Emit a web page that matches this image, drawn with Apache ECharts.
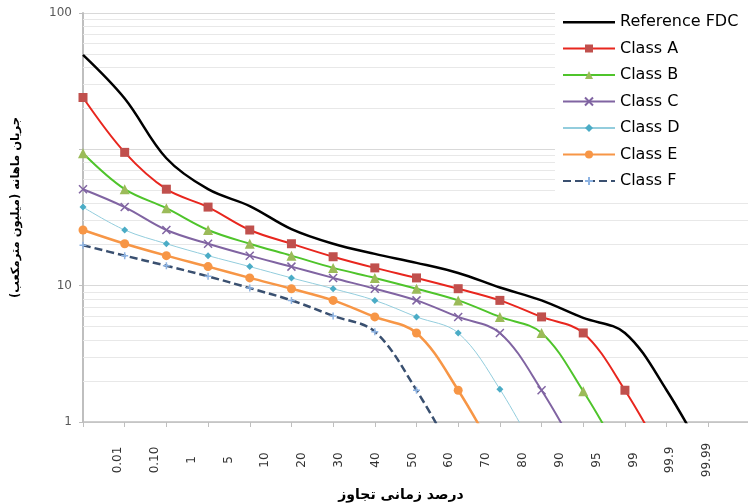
<!DOCTYPE html>
<html>
<head>
<meta charset="utf-8">
<script src="https://cdn.jsdelivr.net/npm/echarts@6/dist/echarts.min.js"></script>
<style>
  html, body { margin: 0; padding: 0; background: #fff; }
  #fdc { width: 748px; height: 504px; }
</style>
</head>
<body>
<div id="fdc"></div>
<script>
var categories = ['0.01', '0.10', '1', '5', '10', '20', '30', '40', '50', '60', '70', '80', '90', '95', '99', '99.9', '99.99'];

var referenceFdc = [493, 236, 86, 51, 38.4, 26, 20.3, 17.1, 14.7, 12.4, 9.7, 7.8, 5.8, 4.5, 1.71, 0.5, null];
var classA = [240, 95, 51, 37.7, 25.6, 20.3, 16.3, 13.5, 11.4, 9.5, 7.8, 5.9, 4.5, 1.71, 0.5, null, null];
var classB = [93.5, 51, 37, 25.6, 20.3, 16.6, 13.5, 11.4, 9.5, 7.8, 5.9, 4.5, 1.68, 0.5, null, null, null];
var classC = [51, 37.7, 25.6, 20.3, 16.6, 13.8, 11.4, 9.5, 7.8, 5.9, 4.5, 1.71, 0.5, null, null, null, null];
var classD = [37.7, 25.6, 20.3, 16.6, 13.8, 11.4, 9.5, 7.8, 5.9, 4.5, 1.74, 0.5, null, null, null, null, null];
var classE = [25.6, 20.3, 16.6, 13.8, 11.4, 9.5, 7.8, 5.9, 4.5, 1.71, 0.5, null, null, null, null, null, null];
var classF = [19.8, 16.6, 14, 11.7, 9.6, 7.8, 6.0, 4.6, 1.71, 0.5, null, null, null, null, null, null, null];

// y tick labels as printed on the picture (the top line carries "100")
var yTickLabels = { 1: '1', 10: '10', 100: '', 1000: '100' };
// minor log gridlines
var minorGrid = [2, 3, 4, 5, 6, 7, 8, 9, 20, 30, 40, 50, 60, 70, 80, 90, 200, 300, 400, 500, 600, 700, 800, 900];

var font = 'DejaVu Sans';
var crossPath = 'path://M0,0L10,10M10,0L0,10';
var plusPath = 'path://M5,0L5,10M0,5L10,5';
// plain line for the legend of the reference curve
var plainLineIcon = 'path://M0,0L0,0M0,10L0,10M0,4L52,4L52,6.5L0,6.5Z';

var chart = echarts.init(document.getElementById('fdc'));

function lineSeries(name, data, color, width, symbol, symbolSize, markerColor, extra) {
    var s = {
        name: name,
        type: 'line',
        data: data,
        smooth: 0.35,
        connectNulls: false,
        symbol: symbol,
        symbolSize: symbolSize,
        showSymbol: symbol !== 'none',
        lineStyle: { color: color, width: width },
        itemStyle: { color: markerColor },
        z: 3
    };
    if (extra) {
        for (var k in extra) s[k] = extra[k];
    }
    return s;
}

var option = {
    animation: false,
    textStyle: { fontFamily: font },
    tooltip: { trigger: 'axis' },
    legend: {
        orient: 'vertical',
        left: 555,
        top: 7,
        padding: [7, 40, 8, 7],
        backgroundColor: '#fff',
        itemWidth: 52,
        itemHeight: 10,
        itemGap: 10.5,
        textStyle: { fontSize: 16, color: '#000', fontFamily: font },
        data: [
            { name: 'Reference FDC', icon: plainLineIcon, itemStyle: { color: '#000' } },
            'Class A', 'Class B', 'Class C', 'Class D', 'Class E', 'Class F'
        ]
    },
    grid: [
        { left: 83, top: 13, width: 667, height: 409, outerBoundsMode: 'none' },
        // labels of the x axis sit on a slightly narrower strip
        { left: 118, top: 13, width: 589, height: 409, outerBoundsMode: 'none' }
    ],
    xAxis: [
        {
            type: 'category',
            gridIndex: 0,
            data: categories,
            boundaryGap: false,
            axisLine: { lineStyle: { color: '#bfbfbf', width: 1.5 } },
            axisTick: { show: true, interval: 0, length: 5, lineStyle: { color: '#bfbfbf' } },
            axisLabel: { show: false },
            splitLine: { show: false },
            name: 'درصد زمانی تجاوز',
            nameLocation: 'middle',
            nameGap: 66,
            nameTextStyle: { fontSize: 14, fontWeight: 'bold', color: '#000', padding: [0, 31, 0, 0] }
        },
        {
            type: 'category',
            gridIndex: 1,
            data: categories,
            boundaryGap: false,
            axisLine: { show: false },
            axisTick: { show: false },
            axisLabel: { interval: 0, rotate: 90, align: 'center', margin: 38, fontSize: 12, color: '#333' },
            splitLine: { show: false }
        }
    ],
    yAxis: [
        {
            type: 'log',
            gridIndex: 0,
            logBase: 10,
            min: 1,
            max: 1000,
            axisLine: { show: true, lineStyle: { color: '#bfbfbf', width: 2 } },
            axisTick: { show: true, length: 4, lineStyle: { color: '#bfbfbf' } },
            axisLabel: {
                fontSize: 12,
                color: '#595959',
                margin: 11,
                formatter: function (v) { return yTickLabels[Math.round(v)] !== undefined ? yTickLabels[Math.round(v)] : ''; }
            },
            splitLine: { lineStyle: { color: '#d9d9d9' } },
            name: 'جریان ماهانه (میلیون مترمکعب)',
            nameLocation: 'middle',
            nameGap: 61,
            nameTextStyle: { fontSize: 11.5, fontWeight: 'bold', color: '#000', padding: [0, 0, 0, 20] }
        },
        { type: 'value', gridIndex: 1, show: false }
    ],
    series: [
        lineSeries('Reference FDC', referenceFdc, '#000', 2.5, 'none', 0, '#000', {
            markLine: {
                silent: true,
                z: 1,
                symbol: ['none', 'none'],
                label: { show: false },
                lineStyle: { color: '#e8e8e8', type: 'solid', width: 1 },
                data: minorGrid.map(function (v) { return { yAxis: v }; })
            }
        }),
        lineSeries('Class A', classA, '#e8261e', 2, 'rect', 9, '#c0504d'),
        lineSeries('Class B', classB, '#4fc42b', 2, 'triangle', 10, '#9bbb59'),
        lineSeries('Class C', classC, '#8064a2', 2, crossPath, 8, '#8064a2', {
            itemStyle: { color: 'none', borderColor: '#8064a2', borderWidth: 1.5 }
        }),
        lineSeries('Class D', classD, '#93cddd', 1, 'diamond', 7, '#4bacc6'),
        lineSeries('Class E', classE, '#f79646', 2.5, 'circle', 9, '#f79646'),
        lineSeries('Class F', classF, '#3a5070', 2.5, plusPath, 7, '#8eb4e3', {
            lineStyle: { color: '#3a5070', width: 2.5, type: [8, 4] },
            itemStyle: { color: 'none', borderColor: '#8eb4e3', borderWidth: 1.5 }
        })
    ]
};

chart.setOption(option);
</script>
</body>
</html>
